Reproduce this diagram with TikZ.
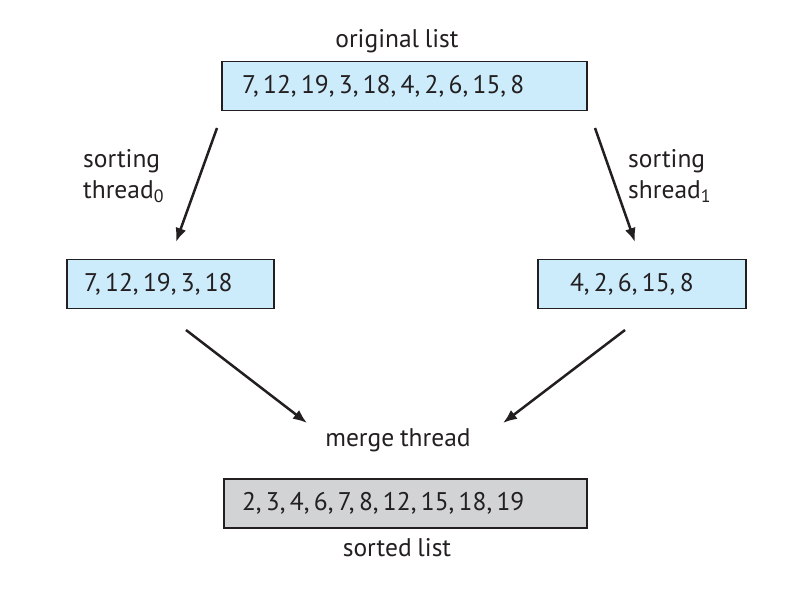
\documentclass[tikz,border=0pt]{standalone}
\usepackage{fontspec}
\setmainfont{PT Sans}[WordSpace=0.85]
\usepackage{xcolor}
\usepackage{tikz}
\usetikzlibrary{shapes,arrows,arrows.meta}
\definecolor{listblue}{RGB}{204,236,252}
\definecolor{listgray}{RGB}{209,211,212}
\definecolor{inkdark}{RGB}{35,31,32}
\newcommand{\listfont}{\fontsize{25.5}{31}\selectfont\spaceskip=0.17em\relax}
\tikzstyle{listBlock} = [rectangle, draw=inkdark, line width=1.2pt, fill=listblue, align=left,
    text=inkdark, minimum height=49pt, inner ysep=0pt]
\tikzstyle{sortedBlock} = [listBlock, fill=listgray]
\tikzstyle{label} = [text=inkdark, inner sep=0pt, align=left]
\tikzstyle{line} = [draw=inkdark, line width=2.5pt, -{Latex[length=14pt,width=11pt]}]

\begin{document}
\begin{tikzpicture}[x=1pt, y=-1pt, font=\fontsize{25.5}{31}\selectfont]
    \useasboundingbox (0,0) rectangle (786,596);
    % Place nodes
    \node [listBlock, inner xsep=20pt, text width=325pt] (orig) at (404.5,86) {\listfont 7, 12, 19, 3, 18, 4, 2, 6, 15, 8};
    \node [label, anchor=base] (origlabel) at (397,48) {original list};
    \node [listBlock, inner xsep=17pt, text width=173pt] (left) at (170.5,284) {\listfont 7, 12, 19, 3, 18};
    \node [listBlock, inner xsep=32pt, text width=144pt] (right) at (642,284) {\listfont 4, 2, 6, 15, 8};
    \node [label, anchor=north west] (sortleft) at (83,149) {sorting\\thread\textsubscript{0}};
    \node [label, anchor=north west] (sortright) at (628,149) {sorting\\shread\textsubscript{1}};
    \node [label, anchor=base] (merge) at (398,446) {merge thread};
    \node [sortedBlock, inner xsep=18pt, text width=327pt] (sorted) at (405.5,503.5) {\listfont 2, 3, 4, 6, 7, 8, 12, 15, 18, 19};
    \node [label, anchor=base] (sortedlabel) at (397,556) {sorted list};
    % arrow ends
    \coordinate (origL) at (217,128);
    \coordinate (origR) at (595,128);
    \coordinate (leftTop) at (176,242);
    \coordinate (rightTop) at (635,242);
    \coordinate (leftBot) at (186,330);
    \coordinate (rightBot) at (625,330);
    \coordinate (mergeL) at (307,423);
    \coordinate (mergeR) at (503,423);

    % Draw edges
    \path [line] (origL) -- (leftTop);
    \path [line] (origR) -- (rightTop);
    \path [line] (leftBot) -- (mergeL);
    \path [line] (rightBot) -- (mergeR);
\end{tikzpicture}
\end{document}
